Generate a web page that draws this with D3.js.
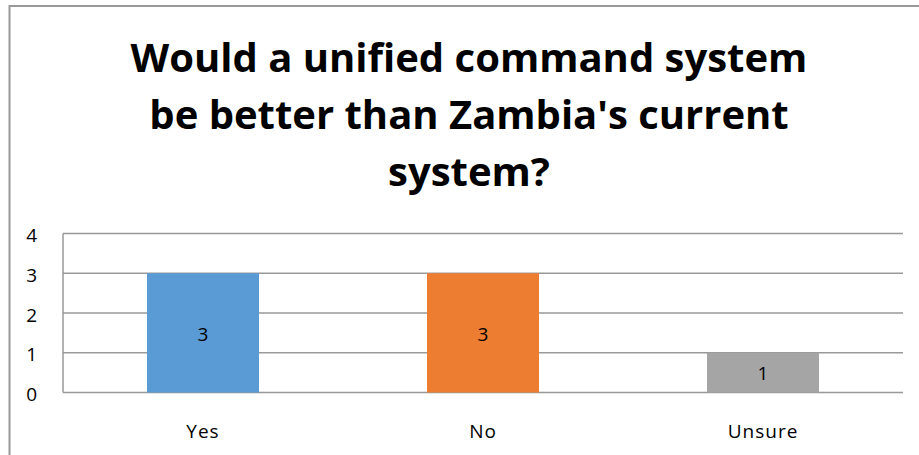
<!DOCTYPE html>
<html>
<head>
<meta charset="utf-8">
<script src="https://cdn.jsdelivr.net/npm/d3@7"></script>
<style>
  body { margin: 0; background: #fff; }
  svg { display: block; }
  text { font-family: "Open Sans", "Liberation Sans", sans-serif; fill: #000; }
</style>
</head>
<body>
<div id="chart"></div>
<script>
// chart data
var categories = ["Yes", "No", "Unsure"];
var counts = [3, 3, 1];
var barColors = ["#5b9bd5", "#ed7d31", "#a5a5a5"];
var yTicks = [0, 1, 2, 3, 4];
var titleLines = ["Would a unified command system", "be better than Zambia's current", "system?"];

var W = 919, H = 455;
var margin = {top: 233.5, right: 16, bottom: 62.5, left: 63};
var width = W - margin.left - margin.right,
    height = H - margin.top - margin.bottom;

var svg = d3.select("#chart")
  .append("svg")
    .attr("width", W)
    .attr("height", H);

// outer chart border (runs off the right and bottom edge)
svg.append("rect")
    .attr("x", 9.5)
    .attr("y", 6)
    .attr("width", W + 20)
    .attr("height", H + 20)
    .attr("fill", "none")
    .attr("stroke", "#999")
    .attr("stroke-width", 2);

// title
svg.append("g").selectAll("text")
  .data(titleLines)
  .enter()
  .append("text")
    .attr("x", 469)
    .attr("y", function (d, i) { return 72 + i * 57; })
    .attr("text-anchor", "middle")
    .attr("font-weight", "bold")
    .attr("font-size", "40px")
    .text(function (d) { return d; });

var g = svg.append("g")
    .attr("transform", "translate(" + margin.left + "," + margin.top + ")");

var x = d3.scaleBand()
    .domain(categories)
    .range([0, width])
    .paddingInner(0.6)
    .paddingOuter(0.3);

var y = d3.scaleLinear()
    .domain([0, 4])
    .range([height, 0]);

// gridlines
g.append("g")
  .selectAll("line")
  .data(yTicks)
  .enter()
  .append("line")
    .attr("x1", 0)
    .attr("x2", width)
    .attr("y1", function (d) { return y(d); })
    .attr("y2", function (d) { return y(d); })
    .attr("stroke", "#999")
    .attr("stroke-width", 1.5);

// left axis line
g.append("line")
    .attr("x1", 0).attr("x2", 0)
    .attr("y1", y(4)).attr("y2", y(0))
    .attr("stroke", "#999")
    .attr("stroke-width", 1.5);

// y tick labels
g.append("g")
  .selectAll("text")
  .data(yTicks)
  .enter()
  .append("text")
    .attr("x", -26)
    .attr("y", function (d) { return y(d) + 2; })
    .attr("dy", "0.35em")
    .attr("text-anchor", "end")
    .attr("font-size", "19px")
    .text(function (d) { return d; });

// bars
g.append("g")
  .selectAll("rect")
  .data(counts)
  .enter()
  .append("rect")
    .attr("x", function (d, i) { return x(categories[i]); })
    .attr("y", function (d) { return y(d); })
    .attr("width", x.bandwidth())
    .attr("height", function (d) { return y(0) - y(d); })
    .attr("fill", function (d, i) { return barColors[i]; });

// value labels in the middle of each bar
g.append("g")
  .selectAll("text")
  .data(counts)
  .enter()
  .append("text")
    .attr("x", function (d, i) { return x(categories[i]) + x.bandwidth() / 2; })
    .attr("y", function (d) { return (y(d) + y(0)) / 2 + 1; })
    .attr("dy", "0.35em")
    .attr("text-anchor", "middle")
    .attr("font-size", "19px")
    .text(function (d) { return d; });

// category labels
g.append("g")
  .selectAll("text")
  .data(categories)
  .enter()
  .append("text")
    .attr("x", function (d) { return x(d) + x.bandwidth() / 2; })
    .attr("y", height + 39)
    .attr("dy", "0.35em")
    .attr("text-anchor", "middle")
    .attr("font-size", "19px")
    .attr("letter-spacing", "1px")
    .text(function (d) { return d; });
</script>
</body>
</html>
